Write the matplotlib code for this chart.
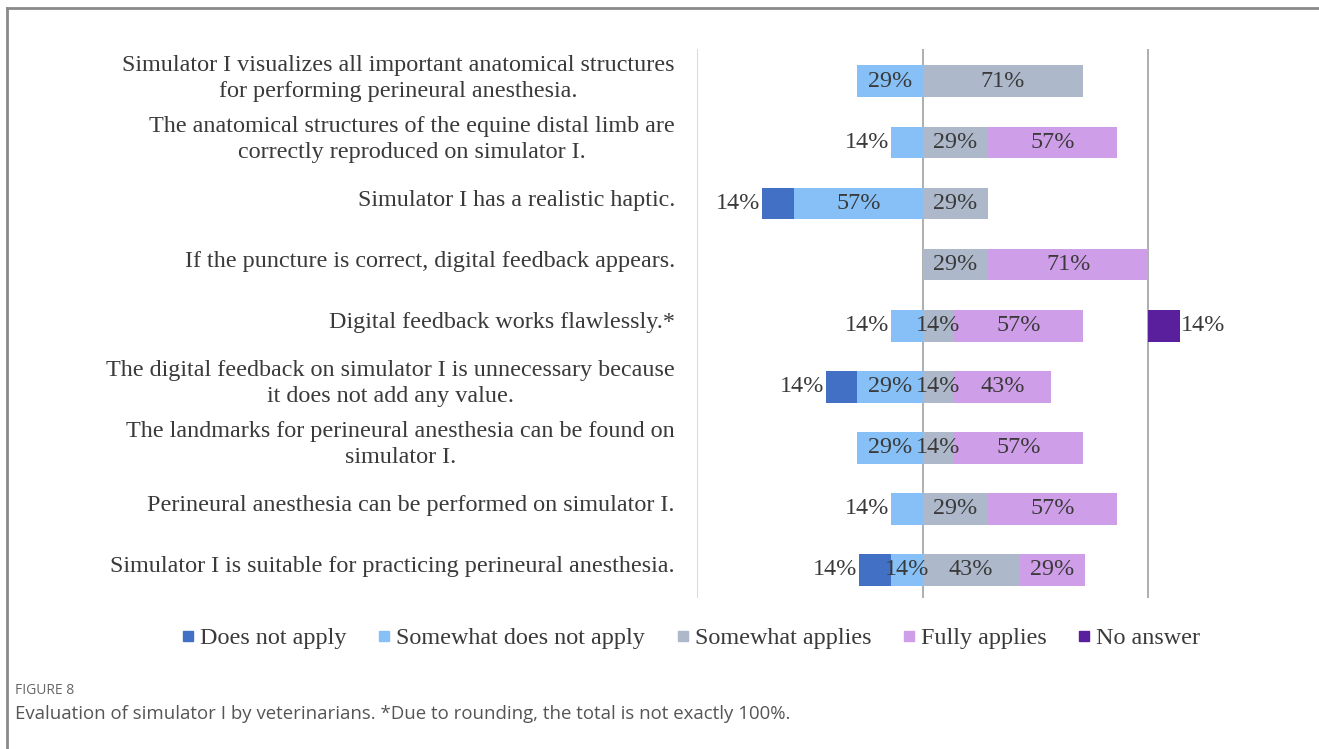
import matplotlib.pyplot as plt
from matplotlib.lines import Line2D
import numpy as np

statements = [
    "Simulator I visualizes all important anatomical structures\nfor performing perineural anesthesia.",
    "The anatomical structures of the equine distal limb are\ncorrectly reproduced on simulator I.",
    "Simulator I has a realistic haptic.",
    "If the puncture is correct, digital feedback appears.",
    "Digital feedback works flawlessly.*",
    "The digital feedback on simulator I is unnecessary because\nit does not add any value.",
    "The landmarks for perineural anesthesia can be found on\nsimulator I.",
    "Perineural anesthesia can be performed on simulator I.",
    "Simulator I is suitable for practicing perineural anesthesia.",
]
does_not_apply = [0, 0, 14, 0, 0, 14, 0, 0, 14]
somewhat_not = [29, 14, 57, 0, 14, 29, 29, 14, 14]
somewhat_applies = [71, 29, 29, 29, 14, 14, 14, 29, 43]
fully_applies = [0, 57, 0, 71, 57, 43, 57, 57, 29]
no_answer = [0, 0, 0, 0, 14, 0, 0, 0, 0]

legend_names = ["Does not apply", "Somewhat does not apply", "Somewhat applies",
                "Fully applies", "No answer"]
colors = ["#4270c4", "#86c0f6", "#adb8ca", "#cf9ee9", "#5a1f9c"]
txt_col = "#3a3a3a"
serif = "Liberation Serif"

fig = plt.figure(figsize=(13.19, 7.49), dpi=100)
W, H = 1319, 749
ax = fig.add_axes([697 / W, (H - 598) / H, (1216 - 697) / W, (598 - 49) / H])

y = np.arange(len(statements))
dna = np.array(does_not_apply)
sna = np.array(somewhat_not)
sa = np.array(somewhat_applies)
fa = np.array(fully_applies)
na = np.array(no_answer)

h = 0.52
segs = [
    (dna, -(sna + dna), colors[0]),
    (sna, -sna, colors[1]),
    (sa, np.zeros_like(sa), colors[2]),
    (fa, sa, colors[3]),
    (na, np.full_like(na, 100), colors[4]),
]
for k, (vals, lefts, c) in enumerate(segs):
    ax.barh(y, vals, left=lefts, height=h, color=c, zorder=2)
    for i, (v, l) in enumerate(zip(vals, lefts)):
        if v == 0:
            continue
        lbl = f"{v}%"
        outer_left = (k == 0) or (k == 1 and dna[i] == 0 and v < 20)
        if k == 4:
            ax.text(l + v + 0.3, i, lbl, ha="left", va="center",
                    fontsize=17.4, family=serif, color=txt_col, zorder=3)
        elif outer_left:
            ax.text(l - 0.8, i, lbl, ha="right", va="center",
                    fontsize=17.4, family=serif, color=txt_col, zorder=3)
        else:
            ax.text(l + v / 2, i, lbl, ha="center", va="center",
                    fontsize=17.4, family=serif, color=txt_col, zorder=3)

ax.axvline(-100, color="#d6d6d6", lw=1.3, zorder=1)
ax.axvline(0, color="#a8a8a8", lw=1.3, zorder=1)
ax.axvline(100, color="#a8a8a8", lw=1.3, zorder=1)

ax.set_xlim(-100, 130)
ax.set_ylim(8.46, -0.53)
ax.set_xticks([])
ax.set_yticks([])
for s in ax.spines.values():
    s.set_visible(False)

for i, s in enumerate(statements):
    ax.text(-100 - 22 / 2.255, i - 0.05, s, ha="right", va="center", multialignment="center",
            fontsize=17.4, family=serif, color=txt_col, linespacing=1.28)

handles = [Line2D([], [], marker="s", ls="none", markersize=7, color=c) for c in colors]
fig.legend(handles, legend_names, loc="center", bbox_to_anchor=(691 / W, 1 - 638 / H),
           ncol=5, frameon=False, handlelength=0.5, handletextpad=0.25,
           columnspacing=1.3, prop={"family": serif, "size": 17.4},
           labelcolor=txt_col)

# card frame and caption
fig.add_artist(Line2D([6.5 / W, 6.5 / W], [0, 1 - 7.5 / H], color="#8a8a8a", lw=2))
fig.add_artist(Line2D([6.5 / W, 1], [1 - 7.5 / H, 1 - 7.5 / H], color="#8a8a8a", lw=2))
fig.text(15 / W, 1 - 690 / H, "FIGURE 8", fontsize=10, family="Open Sans",
         color="#666666", va="center")
fig.text(15 / W, 1 - 714 / H,
         "Evaluation of simulator I by veterinarians. *Due to rounding, the total is not exactly 100%.",
         fontsize=13.4, family="Open Sans", color="#555555", va="center")

fig.savefig("out.png", dpi=100)
